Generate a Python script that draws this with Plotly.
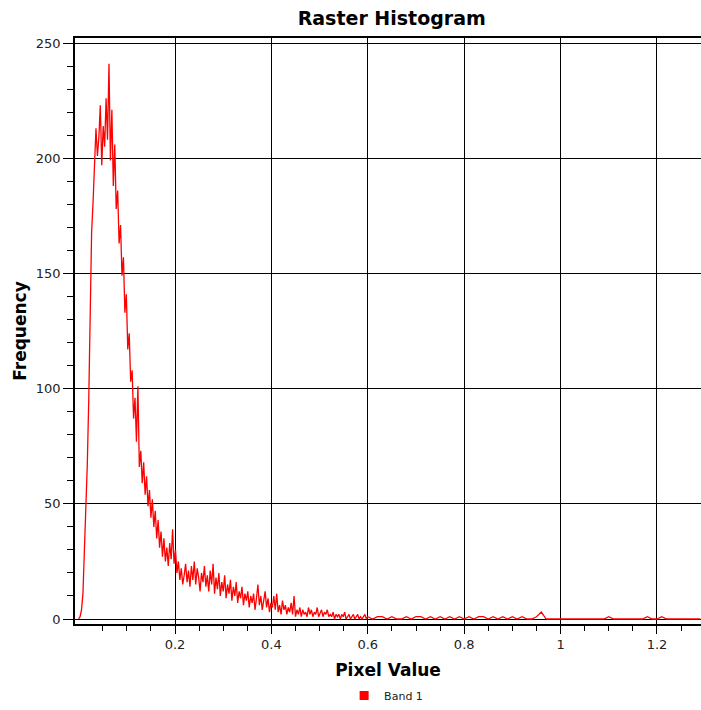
import numpy as np
import plotly.graph_objects as go

# Histogram counts, Band 1 (bins of 0.003 from 0.0 up to 0.6)
counts_main = [
    0, 1, 4, 11, 30, 48, 67, 95, 132, 168,
    181, 196, 213, 201, 209, 223, 197, 214, 205, 226,
    208, 241, 199, 221, 188, 206, 178, 186, 163, 171,
    149, 157, 133, 141, 117, 124, 103, 108, 87, 96,
    77, 101, 66, 73, 59, 68, 54, 62, 49, 56,
    44, 52, 40, 47, 35, 43, 31, 38, 27, 35,
    25, 31, 23, 33, 26, 39, 24, 30, 20, 25,
    17, 22, 15, 19, 24, 16, 21, 14, 23, 17,
    25, 15, 22, 18, 12, 20, 16, 23, 14, 19,
    12, 21, 15, 24, 11, 18, 13, 20, 10, 16,
    12, 19, 9, 15, 11, 17, 8, 14, 10, 16,
    7, 12, 9, 14, 6, 11, 8, 12, 5, 10,
    7, 11, 4, 9, 15, 6, 10, 4, 8, 12,
    5, 9, 3, 7, 5, 10, 4, 11, 3, 6,
    2, 8, 4, 6, 2, 5, 3, 7, 2, 10,
    1, 4, 2, 5, 1, 4, 2, 3, 1, 5,
    2, 4, 1, 3, 2, 5, 1, 3, 4, 1,
    3, 2, 4, 1, 2, 1, 3, 0, 2, 1,
    2, 0, 2, 1, 3, 0, 1, 2, 0, 1,
    2, 0, 1, 2, 0, 1, 0, 1, 2, 0,
]
main_start, main_width = 0.0, 0.003

# Tail counts (bins of 0.01 from 0.60 up to 1.29)
counts_tail = [
    1, 0, 1, 1, 0, 1, 0, 0, 1, 0,
    1, 1, 0, 1, 0, 1, 0, 1, 0, 1,
    0, 1, 0, 1, 1, 0, 1, 0, 1, 0,
    1, 0, 1, 0, 0, 1, 3, 0, 0, 0,
    0, 0, 0, 0, 0, 0, 0, 0, 0, 0,
    1, 0, 0, 0, 0, 0, 0, 0, 1, 0,
    0, 1, 0, 0, 0, 0, 0, 0, 0, 0,
]
tail_start, tail_width = 0.60, 0.01

x_tick_vals = [0.2, 0.4, 0.6, 0.8, 1.0, 1.2]
x_tick_text = ["0.2", "0.4", "0.6", "0.8", "1", "1.2"]
x_minor_vals = [0.05, 0.1, 0.15, 0.25, 0.3, 0.35, 0.45, 0.5, 0.55, 0.65, 0.7, 0.75,
                0.85, 0.9, 0.95, 1.05, 1.1, 1.15, 1.25]
y_tick_vals = [0, 50, 100, 150, 200, 250]

x_main = main_start + main_width * np.arange(len(counts_main))
x_tail = tail_start + tail_width * np.arange(len(counts_tail))
x_all = np.concatenate([x_main, x_tail])
y_all = list(counts_main) + list(counts_tail)

RED = "#ff0000"
fig = go.Figure()
fig.add_trace(go.Scatter(
    x=x_all, y=y_all, mode="lines",
    line=dict(color=RED, width=1.3),
    showlegend=False, hoverinfo="x+y",
))
fig.add_trace(go.Scatter(
    x=[None], y=[None], mode="markers", name="Band 1",
    marker=dict(symbol="square", color=RED, size=9),
))

font_family = "DejaVu Sans"
fig.update_layout(
    width=701, height=710,
    margin=dict(l=75, r=0, t=38, b=84),
    paper_bgcolor="white", plot_bgcolor="white",
    title=dict(text="<b>Raster Histogram</b>", x=0.506, xref="paper",
               y=1 - 18 / 710, yanchor="middle",
               font=dict(family=font_family, size=19, color="black")),
    font=dict(family=font_family, color="#222222"),
    legend=dict(orientation="h", x=0.497, xanchor="center", y=-0.122, yanchor="middle",
                font=dict(family=font_family, size=11, color="#222222"),
                itemwidth=30, bgcolor="rgba(0,0,0,0)"),
)
fig.update_xaxes(
    range=[-0.0075, 1.2913],
    tickmode="array", tickvals=x_tick_vals, ticktext=x_tick_text,
    ticks="outside", ticklen=8, tickwidth=1.2, tickcolor="black",
    tickfont=dict(size=13, color="#222222"),
    showgrid=True, gridcolor="black", gridwidth=1,
    zeroline=False,
    showline=True, linecolor="black", linewidth=1.5, mirror=True,
    minor=dict(tickmode="array", tickvals=x_minor_vals, ticks="outside",
               ticklen=5, tickwidth=1.2, tickcolor="black", showgrid=False),
    title=dict(text="<b>Pixel Value</b>", standoff=13,
               font=dict(family=font_family, size=17, color="black")),
)
fig.update_yaxes(
    range=[-2.16, 252.2],
    tickmode="array", tickvals=y_tick_vals,
    ticks="outside", ticklen=10, tickwidth=1.2, tickcolor="black",
    tickfont=dict(size=13, color="#222222"),
    showgrid=True, gridcolor="black", gridwidth=1,
    zeroline=False,
    showline=True, linecolor="black", linewidth=1.5,
    minor=dict(dtick=10, tick0=0, ticks="outside", ticklen=6, tickwidth=1.2,
               tickcolor="black", showgrid=False),
    title=dict(text="<b>Frequency</b>", standoff=5,
               font=dict(family=font_family, size=17, color="black")),
)

fig.write_html("out.html")
